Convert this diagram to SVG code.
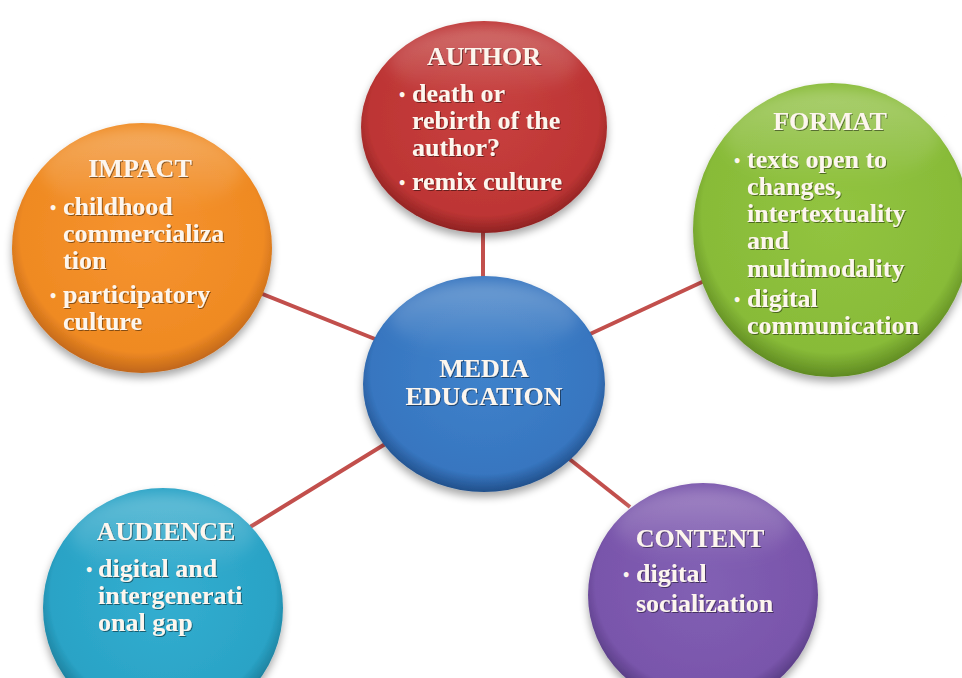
<svg xmlns="http://www.w3.org/2000/svg" width="962" height="678" viewBox="0 0 962 678">
<defs>
<filter id="sh" x="-20%" y="-20%" width="140%" height="150%">
<feGaussianBlur in="SourceAlpha" stdDeviation="4"/>
<feOffset dx="0" dy="5" result="b"/>
<feComponentTransfer><feFuncA type="linear" slope="0.35"/></feComponentTransfer>
<feMerge><feMergeNode/><feMergeNode in="SourceGraphic"/></feMerge>
</filter>
<filter id="bl" x="-20%" y="-50%" width="140%" height="200%">
<feGaussianBlur stdDeviation="7"/>
</filter>
<filter id="ts" x="-10%" y="-30%" width="120%" height="160%">
<feDropShadow dx="1" dy="1" stdDeviation="0.6" flood-color="#000" flood-opacity="0.45"/>
</filter>
<radialGradient id="gRed" cx="50%" cy="45%" r="55%">
<stop offset="0" stop-color="#c8403f"/><stop offset="0.85" stop-color="#bd3534"/><stop offset="1" stop-color="#8e2222"/>
</radialGradient>
<radialGradient id="gGreen" cx="50%" cy="45%" r="55%">
<stop offset="0" stop-color="#92c440"/><stop offset="0.85" stop-color="#88bb38"/><stop offset="1" stop-color="#5f8a22"/>
</radialGradient>
<radialGradient id="gOrange" cx="50%" cy="45%" r="55%">
<stop offset="0" stop-color="#f69330"/><stop offset="0.85" stop-color="#ef8a22"/><stop offset="1" stop-color="#c0661a"/>
</radialGradient>
<radialGradient id="gBlue" cx="50%" cy="45%" r="55%">
<stop offset="0" stop-color="#3f82cb"/><stop offset="0.85" stop-color="#3776c0"/><stop offset="1" stop-color="#214f8a"/>
</radialGradient>
<radialGradient id="gTeal" cx="50%" cy="45%" r="55%">
<stop offset="0" stop-color="#33aed0"/><stop offset="0.85" stop-color="#2aa3c6"/><stop offset="1" stop-color="#1a7894"/>
</radialGradient>
<radialGradient id="gPurple" cx="50%" cy="45%" r="55%">
<stop offset="0" stop-color="#8260b4"/><stop offset="0.85" stop-color="#7955ab"/><stop offset="1" stop-color="#553a80"/>
</radialGradient>
<linearGradient id="hl" x1="0" y1="0" x2="0" y2="1">
<stop offset="0" stop-color="#fff" stop-opacity="0.28"/><stop offset="1" stop-color="#fff" stop-opacity="0"/>
</linearGradient>
</defs>
<style>
.t{font-family:"Liberation Serif","Times New Roman",serif;font-weight:bold;font-size:26px;fill:#fdf6ee;filter:url(#ts)}
.c{text-anchor:middle}
.b{font-family:"Liberation Serif","Times New Roman",serif;font-weight:bold;font-size:18px;fill:#fdf6ee}
.con{stroke:#c24f4c;stroke-width:4;fill:none}
.hl{fill:url(#hl);filter:url(#bl)}
</style>
<g id="connectors">
<line class="con" x1="483" y1="220" x2="483" y2="290"/>
<line class="con" x1="250" y1="289" x2="390" y2="345"/>
<line class="con" x1="575" y1="341" x2="715" y2="276"/>
<line class="con" x1="395" y1="438" x2="250" y2="527"/>
<line class="con" x1="558" y1="450" x2="630" y2="507"/>
</g>
<g id="author">
<ellipse cx="484" cy="127" rx="123" ry="106" fill="url(#gRed)" filter="url(#sh)"/>
<ellipse cx="484" cy="62" rx="95" ry="36" class="hl"/>
<text class="t c" x="484" y="65">AUTHOR</text>
<text class="b" x="399" y="101">•</text>
<text class="t" x="412" y="102">death or</text>
<text class="t" x="412" y="129">rebirth  of the</text>
<text class="t" x="412" y="156">author?</text>
<text class="b" x="399" y="189">•</text>
<text class="t" x="412" y="190">remix  culture</text>
</g>
<g id="format">
<ellipse cx="832" cy="230" rx="139" ry="147" fill="url(#gGreen)" filter="url(#sh)"/>
<ellipse cx="832" cy="137" rx="108" ry="48" class="hl"/>
<text class="t c" x="830" y="130">FORMAT</text>
<text class="b" x="734" y="167">•</text>
<text class="t" x="747" y="168">texts open to</text>
<text class="t" x="747" y="195">changes,</text>
<text class="t" x="747" y="222">intertextuality</text>
<text class="t" x="747" y="249">and</text>
<text class="t" x="747" y="277">multimodality</text>
<text class="b" x="734" y="306">•</text>
<text class="t" x="747" y="307">digital</text>
<text class="t" x="747" y="334">communication</text>
</g>
<g id="impact">
<ellipse cx="142" cy="248" rx="130" ry="125" fill="url(#gOrange)" filter="url(#sh)"/>
<ellipse cx="142" cy="170" rx="100" ry="42" class="hl"/>
<text class="t c" x="140" y="177">IMPACT</text>
<text class="b" x="50" y="214">•</text>
<text class="t" x="63" y="215">childhood</text>
<text class="t" x="63" y="242">commercializa</text>
<text class="t" x="63" y="269">tion</text>
<text class="b" x="50" y="302">•</text>
<text class="t" x="63" y="303">participatory</text>
<text class="t" x="63" y="330">culture</text>
</g>
<g id="media-education">
<ellipse cx="484" cy="384" rx="121" ry="108" fill="url(#gBlue)" filter="url(#sh)"/>
<ellipse cx="484" cy="318" rx="94" ry="36" class="hl"/>
<text class="t c" x="484" y="377">MEDIA</text>
<text class="t c" x="484" y="405">EDUCATION</text>
</g>
<g id="audience">
<ellipse cx="163" cy="608" rx="120" ry="120" fill="url(#gTeal)" filter="url(#sh)"/>
<ellipse cx="163" cy="534" rx="92" ry="40" class="hl"/>
<text class="t c" x="166" y="540">AUDIENCE</text>
<text class="b" x="86" y="576">•</text>
<text class="t" x="98" y="577">digital  and</text>
<text class="t" x="98" y="604">intergenerati</text>
<text class="t" x="98" y="631">onal gap</text>
</g>
<g id="content">
<ellipse cx="703" cy="595" rx="115" ry="112" fill="url(#gPurple)" filter="url(#sh)"/>
<ellipse cx="703" cy="526" rx="88" ry="37" class="hl"/>
<text class="t c" x="700" y="547">CONTENT</text>
<text class="b" x="623" y="581">•</text>
<text class="t" x="636" y="582">digital</text>
<text class="t" x="636" y="612">socialization</text>
</g>
</svg>
